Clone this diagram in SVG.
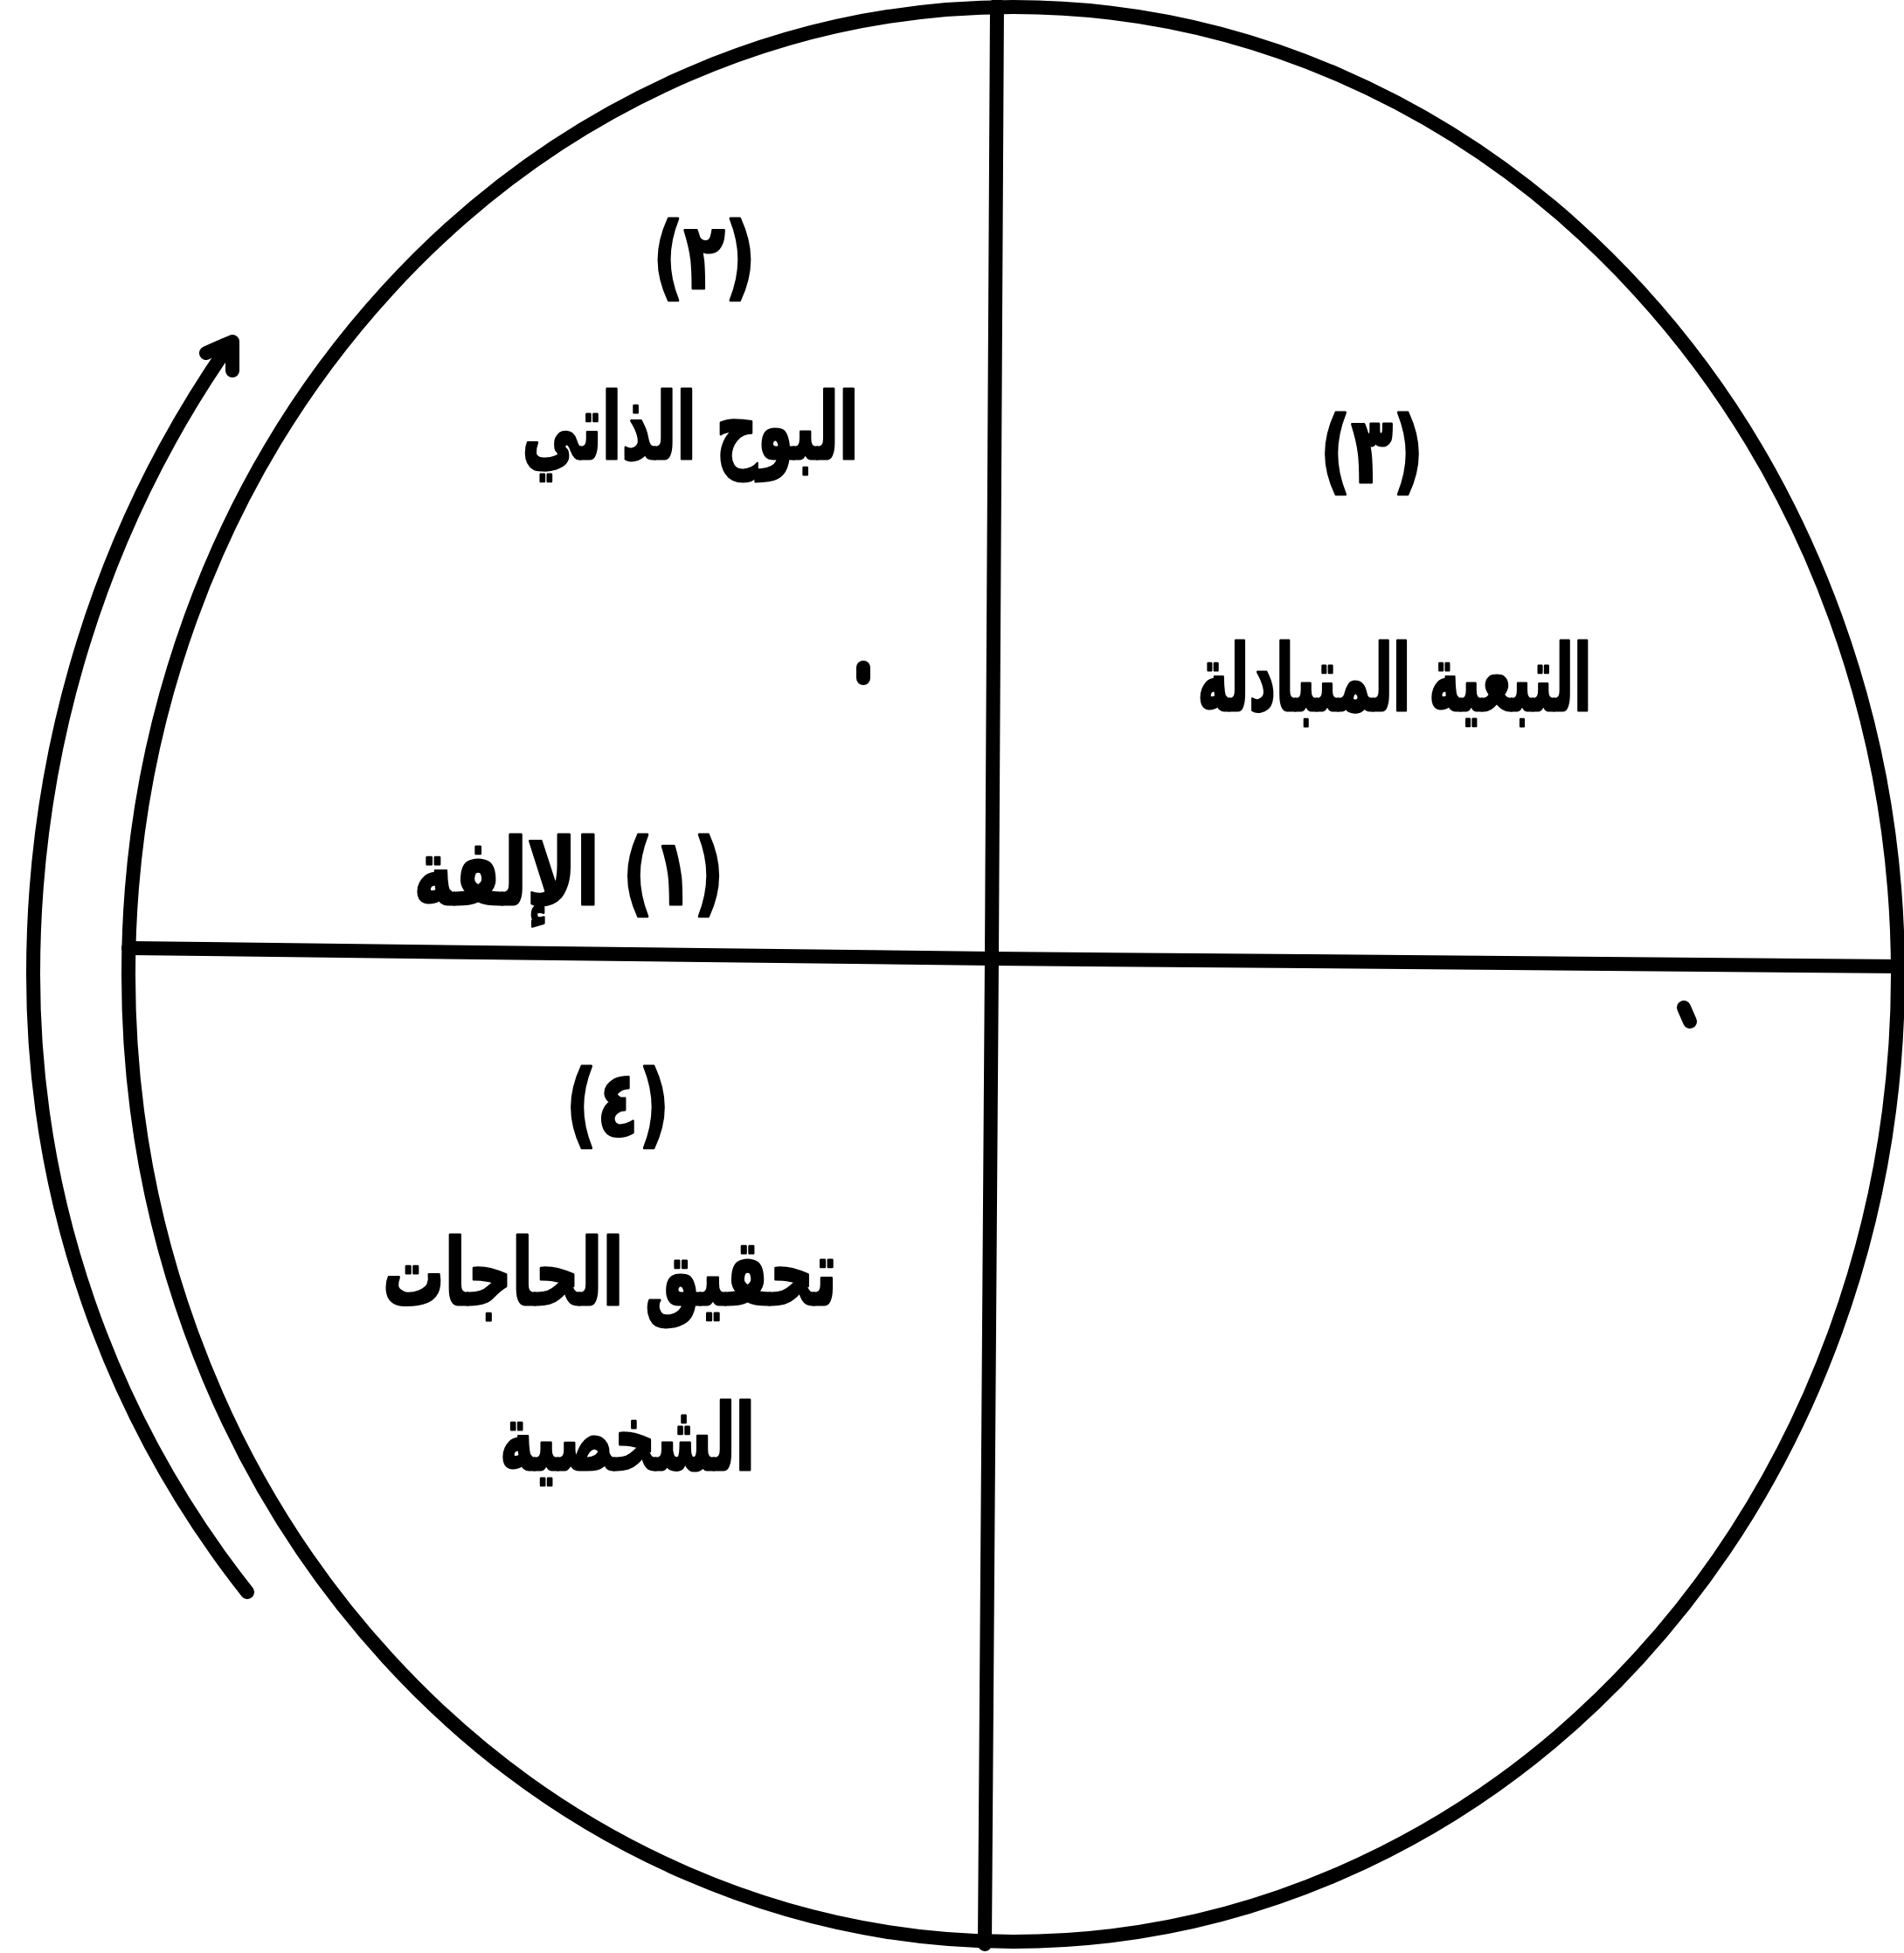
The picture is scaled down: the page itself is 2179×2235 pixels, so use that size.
<svg xmlns="http://www.w3.org/2000/svg" width="2179" height="2235" viewBox="0 0 2179 2235">
<style>
.ln{fill:none;stroke:#000;stroke-width:16;stroke-linecap:round;stroke-linejoin:round}
.lb{font-family:"DejaVu Sans",sans-serif;font-weight:bold;font-size:105px;fill:#000;stroke:#000;stroke-width:3;stroke-linejoin:round;text-anchor:middle}
</style>
<rect width="2179" height="2235" fill="#fff"/>
<g id="circle">
<ellipse class="ln" cx="1159.5" cy="1115" rx="1012.5" ry="1107"/>
</g>
<g id="connectors">
<polyline class="ln" points="1141,5 1135,1095 1127,2225"/>
<polyline class="ln" points="147,1085 1135,1097 2179,1106"/>
<path id="cycle-arrow" class="ln" d="M283,1822 A1121,1133 0 0 1 38,1115 A1121,1200 0 0 1 262,395"/>
<polyline class="ln" points="236,404 266,391 266,424"/>
</g>
<g id="marks">
<line class="ln" x1="988" y1="764" x2="988" y2="776" stroke-width="6"/>
<line class="ln" x1="1927" y1="1153" x2="1934" y2="1169" stroke-width="7"/>
</g>
<g id="q2">
<text class="lb" x="806" y="330" direction="rtl" textLength="118" lengthAdjust="spacingAndGlyphs">(٢)</text>
<text class="lb" x="790" y="525" direction="rtl" textLength="385" lengthAdjust="spacingAndGlyphs">البوح الذاتي</text>
</g>
<g id="q3">
<text class="lb" x="1570" y="552" direction="rtl" textLength="119" lengthAdjust="spacingAndGlyphs">(٣)</text>
<text class="lb" x="1596" y="813" direction="rtl" textLength="451" lengthAdjust="spacingAndGlyphs">التبعية المتبادلة</text>
</g>
<g id="q1">
<text class="lb" x="651" y="1035" direction="rtl" textLength="355" lengthAdjust="spacingAndGlyphs">(١) الإلفة</text>
</g>
<g id="q4">
<text class="lb" x="707" y="1300" direction="rtl" textLength="119" lengthAdjust="spacingAndGlyphs">(٤)</text>
<text class="lb" x="698" y="1493" direction="rtl" textLength="520" lengthAdjust="spacingAndGlyphs">تحقيق الحاجات</text>
<text class="lb" x="718" y="1682" direction="rtl" textLength="292" lengthAdjust="spacingAndGlyphs">الشخصية</text>
</g>
</svg>
